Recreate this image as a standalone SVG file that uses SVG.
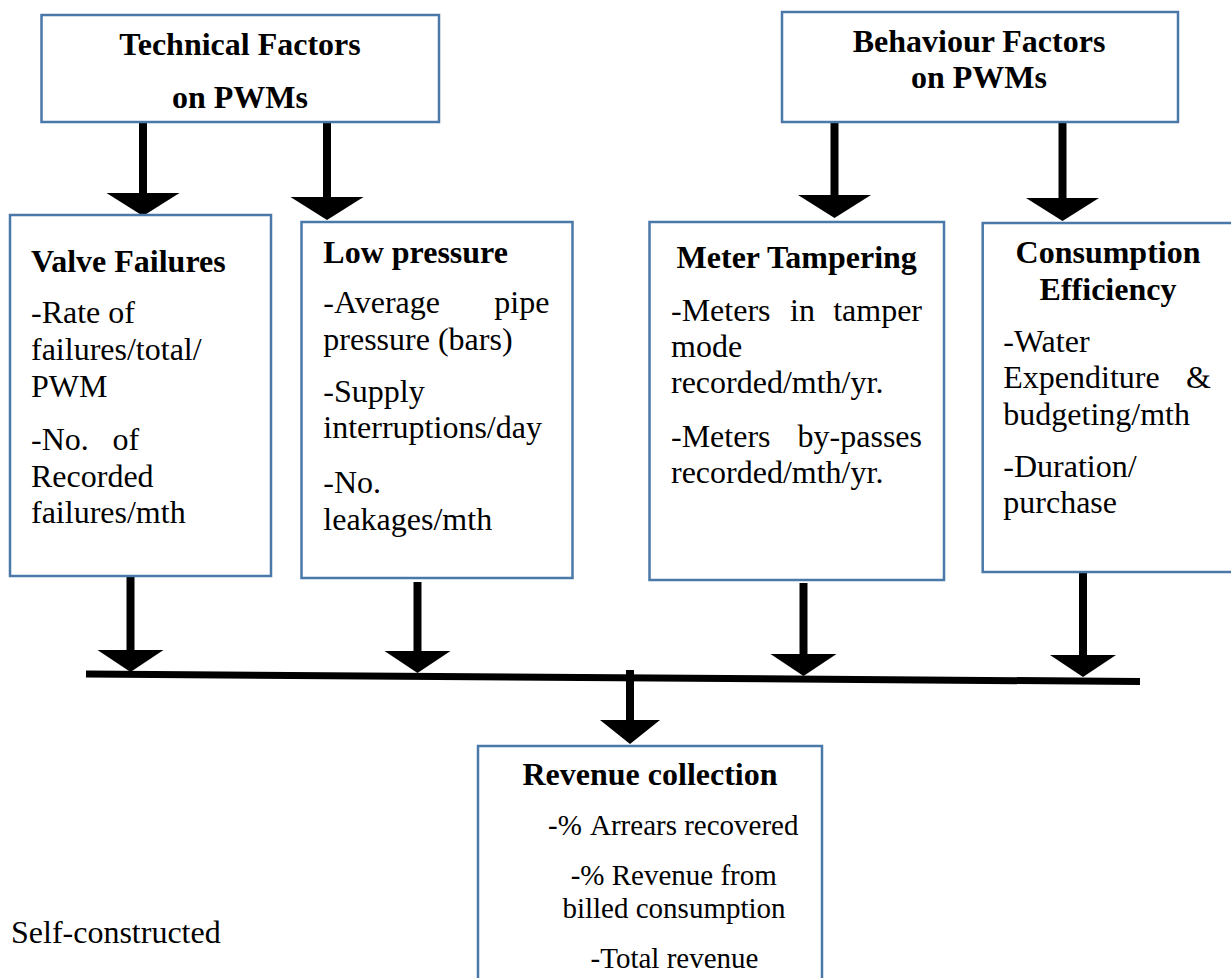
<svg xmlns="http://www.w3.org/2000/svg" xmlns:xlink="http://www.w3.org/1999/xlink" width="1231" height="978" viewBox="0 0 1231 978">
<style>
.box{fill:#fff;stroke:#4a78a8;stroke-width:2.5}
.t{font-family:"Liberation Serif","Times New Roman",serif;font-size:32px;fill:#000}
.b{font-weight:bold}
.s{font-size:29px}
.m{text-anchor:middle}
.e{text-anchor:end}
.shaft{stroke:#000;stroke-width:8;fill:none}
</style>
<defs>
<path id="hd" d="M-36.5,-23 L36.5,-23 L0,0 Z" fill="#000"/>
<path id="hs" d="M-33,-22 L33,-22 L0,0 Z" fill="#000"/>
<path id="hc" d="M-30,-24 L30,-24 L0,0 Z" fill="#000"/>
</defs>
<rect width="1231" height="978" fill="#fff"/>
<g id="connectors">
<line class="shaft" x1="143" y1="118" x2="143" y2="195"/>
<use xlink:href="#hd" x="143" y="216"/>
<line class="shaft" x1="327" y1="122" x2="327" y2="199"/>
<use xlink:href="#hd" x="327" y="220"/>
<line class="shaft" x1="834.5" y1="122" x2="834.5" y2="197"/>
<use xlink:href="#hd" x="834.5" y="218"/>
<line class="shaft" x1="1062.5" y1="122" x2="1062.5" y2="200"/>
<use xlink:href="#hd" x="1062.5" y="221"/>
<line class="shaft" x1="130.5" y1="576" x2="130.5" y2="652"/>
<use xlink:href="#hs" x="130.5" y="672"/>
<line class="shaft" x1="417.5" y1="582" x2="417.5" y2="653"/>
<use xlink:href="#hs" x="417.5" y="673"/>
<line class="shaft" x1="803.5" y1="583" x2="803.5" y2="656"/>
<use xlink:href="#hs" x="803.5" y="676"/>
<line class="shaft" x1="1083" y1="570" x2="1083" y2="657"/>
<use xlink:href="#hs" x="1083" y="677"/>
<line x1="86" y1="674" x2="1140" y2="681.5" stroke="#000" stroke-width="7"/>
<line class="shaft" x1="630" y1="670" x2="630" y2="722"/>
<use xlink:href="#hc" x="630" y="744"/>
</g>
<g id="technical">
<rect class="box" x="41.5" y="15" width="397.5" height="107"/>
<text class="t b m" x="240" y="55">Technical Factors</text>
<text class="t b m" x="240" y="108">on PWMs</text>
</g>
<g id="behaviour">
<rect class="box" x="782" y="12" width="396" height="110"/>
<text class="t b m" x="979" y="52">Behaviour Factors</text>
<text class="t b m" x="979" y="88">on PWMs</text>
</g>
<g id="valve">
<rect class="box" x="10" y="215" width="261" height="361"/>
<text class="t b" x="31" y="272">Valve Failures</text>
<text class="t" x="31" y="323">-Rate of</text>
<text class="t" x="31" y="360">failures/total/</text>
<text class="t" x="31" y="397">PWM</text>
<text class="t" x="31" y="450">-No.</text>
<text class="t" x="112.6" y="450">of</text>
<text class="t" x="31" y="487">Recorded</text>
<text class="t" x="31" y="523">failures/mth</text>
</g>
<g id="lowpressure">
<rect class="box" x="301.5" y="222" width="271" height="356"/>
<text class="t b" x="323.3" y="263">Low pressure</text>
<text class="t" x="323.3" y="313">-Average</text>
<text class="t e" x="549.4" y="313">pipe</text>
<text class="t" x="323.3" y="350">pressure (bars)</text>
<text class="t" x="323.3" y="402">-Supply</text>
<text class="t" x="323.3" y="438">interruptions/day</text>
<text class="t" x="323.3" y="493">-No.</text>
<text class="t" x="323.3" y="530">leakages/mth</text>
</g>
<g id="meter">
<rect class="box" x="649.5" y="222" width="294.5" height="358"/>
<text class="t b m" x="796.7" y="268">Meter Tampering</text>
<text class="t" x="671" y="321">-Meters</text>
<text class="t" x="790" y="321">in</text>
<text class="t e" x="922" y="321">tamper</text>
<text class="t" x="671" y="357">mode</text>
<text class="t" x="671" y="393">recorded/mth/yr.</text>
<text class="t" x="671" y="447">-Meters</text>
<text class="t e" x="922" y="447">by-passes</text>
<text class="t" x="671" y="483">recorded/mth/yr.</text>
</g>
<g id="consumption">
<rect class="box" x="982.7" y="223" width="260" height="349"/>
<text class="t b m" x="1108" y="263">Consumption</text>
<text class="t b m" x="1108" y="300">Efficiency</text>
<text class="t" x="1003.3" y="352">-Water</text>
<text class="t" x="1003.3" y="388">Expenditure</text>
<text class="t e" x="1211" y="388">&amp;</text>
<text class="t" x="1003.3" y="425">budgeting/mth</text>
<text class="t" x="1003.3" y="477">-Duration/</text>
<text class="t" x="1003.3" y="513">purchase</text>
</g>
<g id="revenue">
<rect class="box" x="478" y="746" width="344" height="250"/>
<text class="t b m" x="650" y="785">Revenue collection</text>
<text class="t s" x="548" y="835">-%</text>
<text class="t s" x="590" y="835">Arrears recovered</text>
<text class="t s" x="570.7" y="885">-%</text>
<text class="t s" x="611.7" y="885">Revenue from</text>
<text class="t s m" x="674" y="918">billed consumption</text>
<text class="t s m" x="674.5" y="968">-Total revenue</text>
</g>
<text class="t" x="11" y="943">Self-constructed</text>
</svg>
